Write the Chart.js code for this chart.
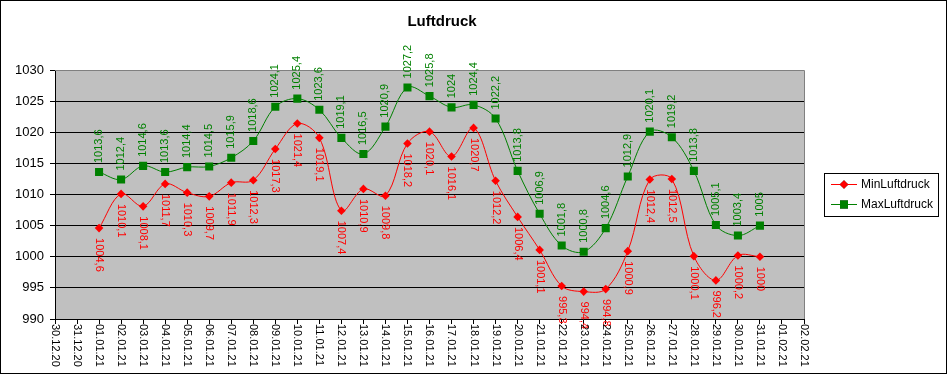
<!DOCTYPE html>
<html>
<head>
<meta charset="utf-8">
<title>Luftdruck</title>
<script src="https://cdn.jsdelivr.net/npm/chart.js@4.4.1/dist/chart.umd.min.js"></script>
<style>
  html, body { margin: 0; padding: 0; background: #fff; }
  canvas { display: block; }
</style>
</head>
<body>
<canvas id="luftdruck-chart" width="948" height="375"></canvas>
<script>
// Luftdruck chart data
var dates = ['30.12.20', '31.12.20',
  '01.01.21', '02.01.21', '03.01.21', '04.01.21', '05.01.21', '06.01.21', '07.01.21', '08.01.21',
  '09.01.21', '10.01.21', '11.01.21', '12.01.21', '13.01.21', '14.01.21', '15.01.21', '16.01.21',
  '17.01.21', '18.01.21', '19.01.21', '20.01.21', '21.01.21', '22.01.21', '23.01.21', '24.01.21',
  '25.01.21', '26.01.21', '27.01.21', '28.01.21', '29.01.21', '30.01.21', '31.01.21',
  '01.02.21', '02.02.21'];

var minLuftdruck = [null, null,
  1004.6, 1010.1, 1008.1, 1011.7, 1010.3, 1009.7, 1011.9, 1012.3,
  1017.3, 1021.4, 1019.1, 1007.4, 1010.9, 1009.8, 1018.2, 1020.1,
  1016.1, 1020.7, 1012.2, 1006.4, 1001.1, 995.3, 994.4, 994.8,
  1000.9, 1012.4, 1012.5, 1000.1, 996.2, 1000.2, 1000,
  null, null];

var maxLuftdruck = [null, null,
  1013.6, 1012.4, 1014.6, 1013.6, 1014.4, 1014.5, 1015.9, 1018.6,
  1024.1, 1025.4, 1023.6, 1019.1, 1016.5, 1020.9, 1027.2, 1025.8,
  1024, 1024.4, 1022.2, 1013.8, 1006.9, 1001.8, 1000.8, 1004.6,
  1012.9, 1020.1, 1019.2, 1013.8, 1005.1, 1003.4, 1005,
  null, null];

var yMin = 990, yMax = 1030, yStep = 5;

var FONT = '"Liberation Sans", Arial, sans-serif';

// gray plot area, frame, title, legend, date labels and value labels
var excelLook = {
  id: 'excelLook',
  beforeDraw: function (chart) {
    var ctx = chart.ctx, a = chart.chartArea;
    ctx.save();
    ctx.fillStyle = '#ffffff';
    ctx.fillRect(0, 0, chart.width, chart.height);
    ctx.fillStyle = '#c0c0c0';
    ctx.fillRect(a.left, a.top, a.right - a.left, a.bottom - a.top);
    ctx.restore();
  },
  beforeDatasetsDraw: function (chart) {
    var ctx = chart.ctx, a = chart.chartArea;
    ctx.save();
    ctx.strokeStyle = '#808080';
    ctx.lineWidth = 1;
    ctx.beginPath();
    ctx.moveTo(a.left, a.top + 0.5);
    ctx.lineTo(Math.round(a.right) + 0.5, a.top + 0.5);
    ctx.lineTo(Math.round(a.right) + 0.5, a.bottom);
    ctx.stroke();
    ctx.restore();
  },
  afterDatasetsDraw: function (chart) {
    var ctx = chart.ctx;
    ctx.save();
    ctx.font = '11px ' + FONT;
    chart.data.datasets.forEach(function (ds, di) {
      var meta = chart.getDatasetMeta(di);
      var above = ds.labelSide === 'above';
      meta.data.forEach(function (pt, i) {
        var v = ds.data[i];
        if (v === null) return;
        var txt = String(v).replace('.', ',');
        ctx.save();
        ctx.fillStyle = ds.borderColor;
        ctx.textBaseline = 'middle';
        ctx.textAlign = 'left';
        if (above) {
          ctx.translate(pt.x, pt.y - 9);
          ctx.rotate(-Math.PI / 2);
        } else {
          ctx.translate(pt.x, pt.y + 10);
          ctx.rotate(Math.PI / 2);
        }
        ctx.fillText(txt, 0, 0);
        ctx.restore();
      });
    });
    ctx.restore();
  },
  afterDraw: function (chart) {
    var ctx = chart.ctx, xs = chart.scales.x;
    ctx.save();

    // date labels, read top to bottom
    ctx.fillStyle = '#000';
    ctx.font = '11px ' + FONT;
    ctx.textBaseline = 'middle';
    ctx.textAlign = 'left';
    dates.forEach(function (d, i) {
      ctx.save();
      ctx.translate(xs.getPixelForValue(i), chart.chartArea.bottom + 5);
      ctx.rotate(Math.PI / 2);
      ctx.fillText(d, 0, 0);
      ctx.restore();
    });

    // title
    ctx.font = 'bold 15px ' + FONT;
    ctx.textAlign = 'center';
    ctx.fillText('Luftdruck', 442, 22);

    // legend
    var lx = 824, ly = 173, lw = 114, lh = 43;
    ctx.strokeStyle = '#000';
    ctx.lineWidth = 1;
    ctx.strokeRect(lx + 0.5, ly + 0.5, lw, lh);
    ctx.font = '12px ' + FONT;
    ctx.textAlign = 'left';
    chart.data.datasets.forEach(function (ds, di) {
      var y = ly + 11 + di * 20;
      ctx.strokeStyle = ds.borderColor;
      ctx.beginPath();
      ctx.moveTo(lx + 7, y + 0.5);
      ctx.lineTo(lx + 33, y + 0.5);
      ctx.stroke();
      Chart.helpers.drawPoint(ctx, {
        pointStyle: ds.pointStyle,
        radius: ds.pointRadius,
        borderWidth: 0
      }, lx + 20, y + 0.5);
      ctx.fillStyle = ds.borderColor;
      ctx.fill();
      ctx.fillStyle = '#000';
      ctx.fillText(ds.label, lx + 37, y + 1);
    });

    // outer frame
    ctx.strokeStyle = '#000';
    ctx.strokeRect(0.5, 0.5, 946, 373);
    ctx.restore();
  }
};

var ctx = document.getElementById('luftdruck-chart').getContext('2d');
var luftdruckChart = new Chart(ctx, {
  type: 'line',
  data: {
    labels: dates,
    datasets: [{
      label: 'MinLuftdruck',
      data: minLuftdruck,
      borderColor: '#ff0000',
      backgroundColor: '#ff0000',
      borderWidth: 1,
      pointStyle: 'rectRot',
      pointRadius: 4.3,
      pointBorderWidth: 0,
      tension: 0.35,
      labelSide: 'below'
    }, {
      label: 'MaxLuftdruck',
      data: maxLuftdruck,
      borderColor: '#008000',
      backgroundColor: '#008000',
      borderWidth: 1,
      pointStyle: 'rect',
      pointRadius: 5.7,
      pointBorderWidth: 0,
      tension: 0.35,
      labelSide: 'above'
    }]
  },
  options: {
    responsive: false,
    animation: false,
    layout: { padding: { left: 0, top: 70, right: 144, bottom: 0 } },
    plugins: {
      legend: { display: false },
      title: { display: false },
      tooltip: { enabled: false }
    },
    scales: {
      x: {
        type: 'category',
        offset: false,
        afterFit: function (scale) { scale.height = 56; },
        ticks: { display: false, autoSkip: false },
        grid: {
          drawOnChartArea: false,
          drawTicks: true,
          tickLength: 5,
          tickColor: '#000'
        },
        border: { color: '#000', width: 1 }
      },
      y: {
        min: yMin,
        max: yMax,
        afterFit: function (scale) { scale.width = 55; },
        ticks: {
          stepSize: yStep,
          color: '#000',
          padding: 6,
          font: { family: FONT, size: 13 },
          callback: function (value) { return String(value); }
        },
        grid: {
          color: function (c) { return c.tick && c.tick.value === yMax ? '#808080' : '#000'; },
          tickColor: '#000',
          tickLength: 5,
          lineWidth: 1
        },
        border: { color: '#000', width: 1 }
      }
    }
  },
  plugins: [excelLook]
});
</script>
</body>
</html>
